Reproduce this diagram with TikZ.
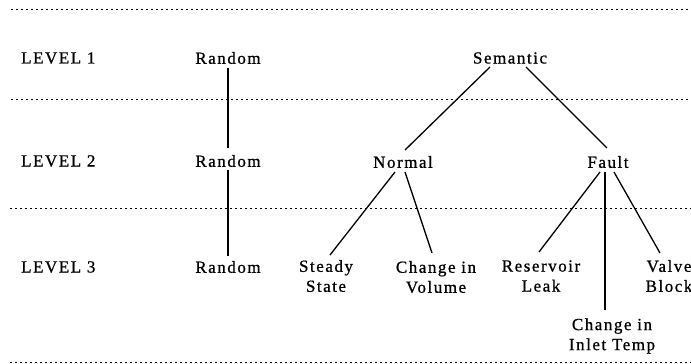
\documentclass[tikz,border=0pt]{standalone}
\usepackage{fontspec}
\setmainfont{Liberation Serif}[LetterSpace=9,FakeBold=0.8]
\begin{document}
\begin{tikzpicture}[x=1pt,y=-1pt,
  lbl/.style={font=\fontsize{17}{20}\selectfont, inner sep=0pt, align=center},
  lvl/.style={lbl, anchor=west},
  conn/.style={line width=1.3pt},
  sep/.style={line width=0.8pt, dash pattern=on 2pt off 3pt}]
\useasboundingbox (0,0) rectangle (691,364);
\begin{scope}
\clip (0,0) rectangle (691,364);
% separators
\draw[sep] (11,9) -- (691,9);
\draw[sep] (11,99) -- (691,99);
\draw[sep] (10,208) -- (691,208);
\draw[sep] (10,362) -- (691,362);
% level labels
\node[lvl] (l1) at (21,58) {LEVEL 1};
\node[lvl] (l2) at (21,161) {LEVEL 2};
\node[lvl] (l3) at (21,267) {LEVEL 3};
% nodes
\node[lbl] (r1) at (228,58) {Random};
\node[lbl] (r2) at (228,161) {Random};
\node[lbl] (r3) at (228,267) {Random};
\node[lbl] (sem) at (510,58) {Semantic};
\node[lbl] (norm) at (403,162) {Normal};
\node[lbl] (fault) at (608,162) {Fault};
\node[lbl] (steady) at (326,276) {Steady\\State};
\node[lbl] (vol) at (436,277) {Change in\\Volume};
\node[lbl] (leak) at (541,276) {Reservoir\\Leak};
\node[lbl] (inlet) at (612,336) {Change in\\Inlet Temp};
\node[lbl] (valve) at (669,276) {Valve\\Block};
% connectors
\draw[conn] ([shift={(0,10)}]r1.center) -- ([shift={(0,-13)}]r2.center);
\draw[conn] ([shift={(0,9)}]r2.center) -- ([shift={(0,-11)}]r3.center);
\draw[conn] ([shift={(-20,9)}]sem.center) -- ([shift={(2,-12)}]norm.center);
\draw[conn] ([shift={(16,9)}]sem.center) -- ([shift={(-1,-14)}]fault.center);
\draw[conn] ([shift={(-8,10)}]norm.center) -- ([shift={(4,-21)}]steady.center);
\draw[conn] ([shift={(2,10)}]norm.center) -- ([shift={(-4,-24)}]vol.center);
\draw[conn] ([shift={(-8,10)}]fault.center) -- ([shift={(-2,-24)}]leak.center);
\draw[conn] ([shift={(-3,10)}]fault.center) -- ([shift={(-7,-26)}]inlet.center);
\draw[conn] ([shift={(6,10)}]fault.center) -- ([shift={(-9,-23)}]valve.center);
\end{scope}
\end{tikzpicture}
\end{document}
